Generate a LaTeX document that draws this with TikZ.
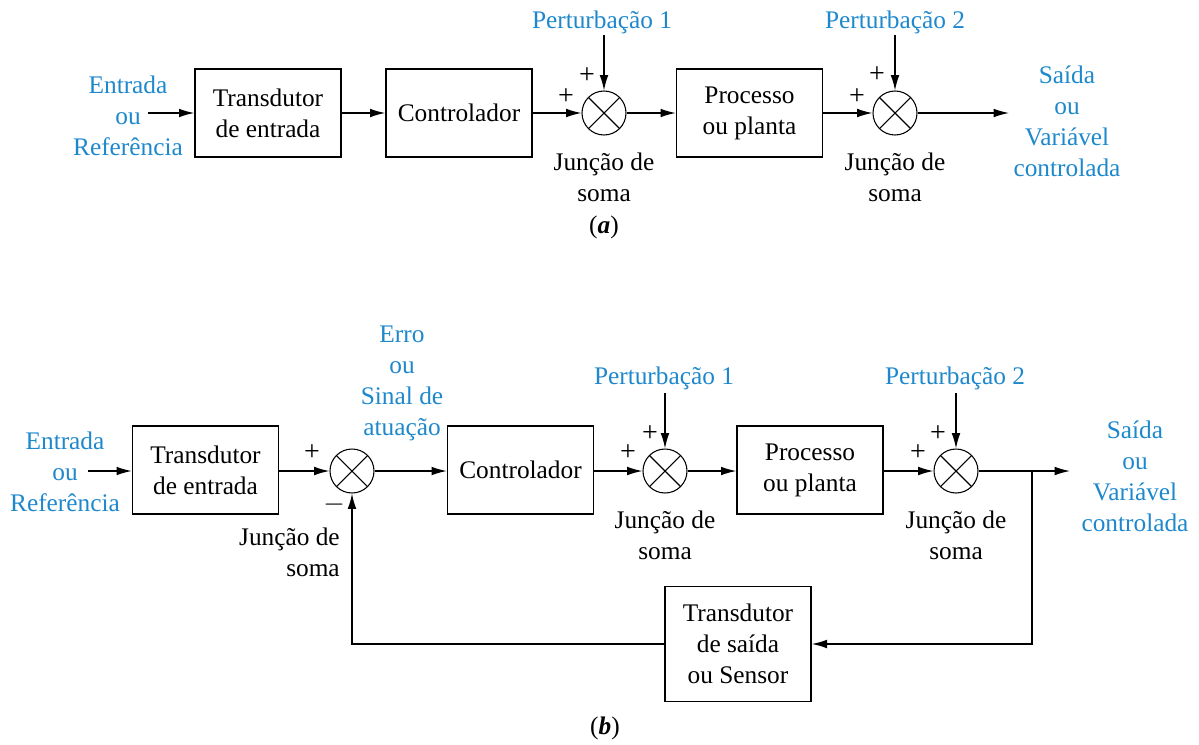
\documentclass[tikz,border=0pt]{standalone}
\usepackage{fontspec}
\setmainfont{Liberation Serif}
\usetikzlibrary{arrows.meta,calc}
\definecolor{lblue}{RGB}{30,136,204}
\begin{document}
\begin{tikzpicture}[x=0.75pt,y=-0.75pt,
  every node/.style={font=\fontsize{19}{23.25}\selectfont},
  blk/.style={draw,line width=1pt,inner sep=0,align=center,minimum width=109.5pt,minimum height=66pt},
  sumj/.style={draw,circle,line width=0.8pt,minimum size=33pt,inner sep=0,
    path picture={\draw[line width=0.8pt] (path picture bounding box.north west)--(path picture bounding box.south east)
      (path picture bounding box.north east)--(path picture bounding box.south west);}},
  sig/.style={line width=1pt,-{Latex[length=11.5pt,width=6.5pt]}},
  ln/.style={line width=1pt},
  lbl/.style={text=lblue,align=center,inner sep=0},
  txt/.style={align=center,inner sep=0},
  sgn/.style={inner sep=0,font=\fontsize{21}{24}\selectfont},
]
\useasboundingbox (0,0) rectangle (1199,744);

% ---------------- (a) ----------------
\node[lbl] (ina) at (128,115.5) {Entrada\\ou\\Referência};
\coordinate (ina0) at (148,113);
\node[blk] (ta) at (268,113) {Transdutor\\de entrada};
\node[blk] (ca) at (459,113) {Controlador};
\node[sumj] (s1a) at (604,113) {};
\node[blk] (pa) at (749.5,113) {Processo\\ou planta};
\node[sumj] (s2a) at (895,113) {};
\coordinate (outa0) at (1009,113);
\node[lbl] (outa) at (1067,121) {Saída\\ou\\Variável\\controlada};
\node[lbl] (d1a) at (602,22) {Perturbação 1};
\node[lbl] (d2a) at (895,22) {Perturbação 2};
\coordinate (d1a0) at (604,35);
\coordinate (d2a0) at (895,35);
\node[txt] (js1a) at (604,177) {Junção de\\soma};
\node[txt] (js2a) at (895,177) {Junção de\\soma};
\node[txt] (capa) at (604,227) {(\textbf{\textit{a}})};
\node[sgn] (p1a) at (566,97) {+};
\node[sgn] (p2a) at (587,76) {+};
\node[sgn] (p3a) at (857,97) {+};
\node[sgn] (p4a) at (877,75) {+};

\draw[sig] (ina0) -- (ta);
\draw[sig] (ta) -- (ca);
\draw[sig] (ca) -- (s1a);
\draw[sig] (d1a0) -- (s1a);
\draw[sig] (s1a) -- (pa);
\draw[sig] (pa) -- (s2a);
\draw[sig] (d2a0) -- (s2a);
\draw[sig] (s2a) -- (outa0);

% ---------------- (b) ----------------
\node[lbl] (inb) at (65,471.5) {Entrada\\ou\\Referência};
\coordinate (inb0) at (88,471);
\node[blk] (tb) at (205.5,470) {Transdutor\\de entrada};
\node[sumj] (s1b) at (352,471) {};
\node[lbl] (err) at (402,383.5) {Erro\\ou\\Sinal de\\atuação};
\node[blk] (cb) at (520.5,470) {Controlador};
\node[sumj] (s2b) at (665,471) {};
\node[blk] (pb) at (810,470) {Processo\\ou planta};
\node[sumj] (s3b) at (956,471) {};
\coordinate (br) at (1032,471);
\coordinate (outb0) at (1070,471);
\node[lbl] (outb) at (1135,476.5) {Saída\\ou\\Variável\\controlada};
\node[blk,minimum height=86.25pt] (sb) at (738,644) {Transdutor\\de saída\\ou Sensor};
\node[lbl] (d1b) at (664,378) {Perturbação 1};
\node[lbl] (d2b) at (955,378) {Perturbação 2};
\coordinate (d1b0) at (665,393);
\coordinate (d2b0) at (956,393);
\node[txt,align=right,anchor=east] (js1b) at (340,552.5) {Junção de\\soma};
\node[txt] (js2b) at (665,535) {Junção de\\soma};
\node[txt] (js3b) at (956,535) {Junção de\\soma};
\node[txt] (capb) at (605,728) {(\textbf{\textit{b}})};
\node[sgn] (p1b) at (312,453) {+};
\node[sgn] (m1b) at (334,505) {$-$};
\node[sgn] (p2b) at (628,453) {+};
\node[sgn] (p3b) at (650,434) {+};
\node[sgn] (p4b) at (918,453) {+};
\node[sgn] (p5b) at (938,434) {+};

\draw[sig] (inb0) -- (tb.west |- inb0);
\draw[sig] (tb.east |- s1b) -- (s1b);
\draw[sig] (s1b) -- (cb.west |- s1b);
\draw[sig] (cb.east |- s2b) -- (s2b);
\draw[sig] (d1b0) -- (s2b);
\draw[sig] (s2b) -- (pb.west |- s2b);
\draw[sig] (pb.east |- s3b) -- (s3b);
\draw[sig] (d2b0) -- (s3b);
\draw[sig] (s3b) -- (outb0);
\draw[sig] (br) |- (sb.east);
\draw[sig] (sb.west) -| (s1b.south);
\end{tikzpicture}
\end{document}
